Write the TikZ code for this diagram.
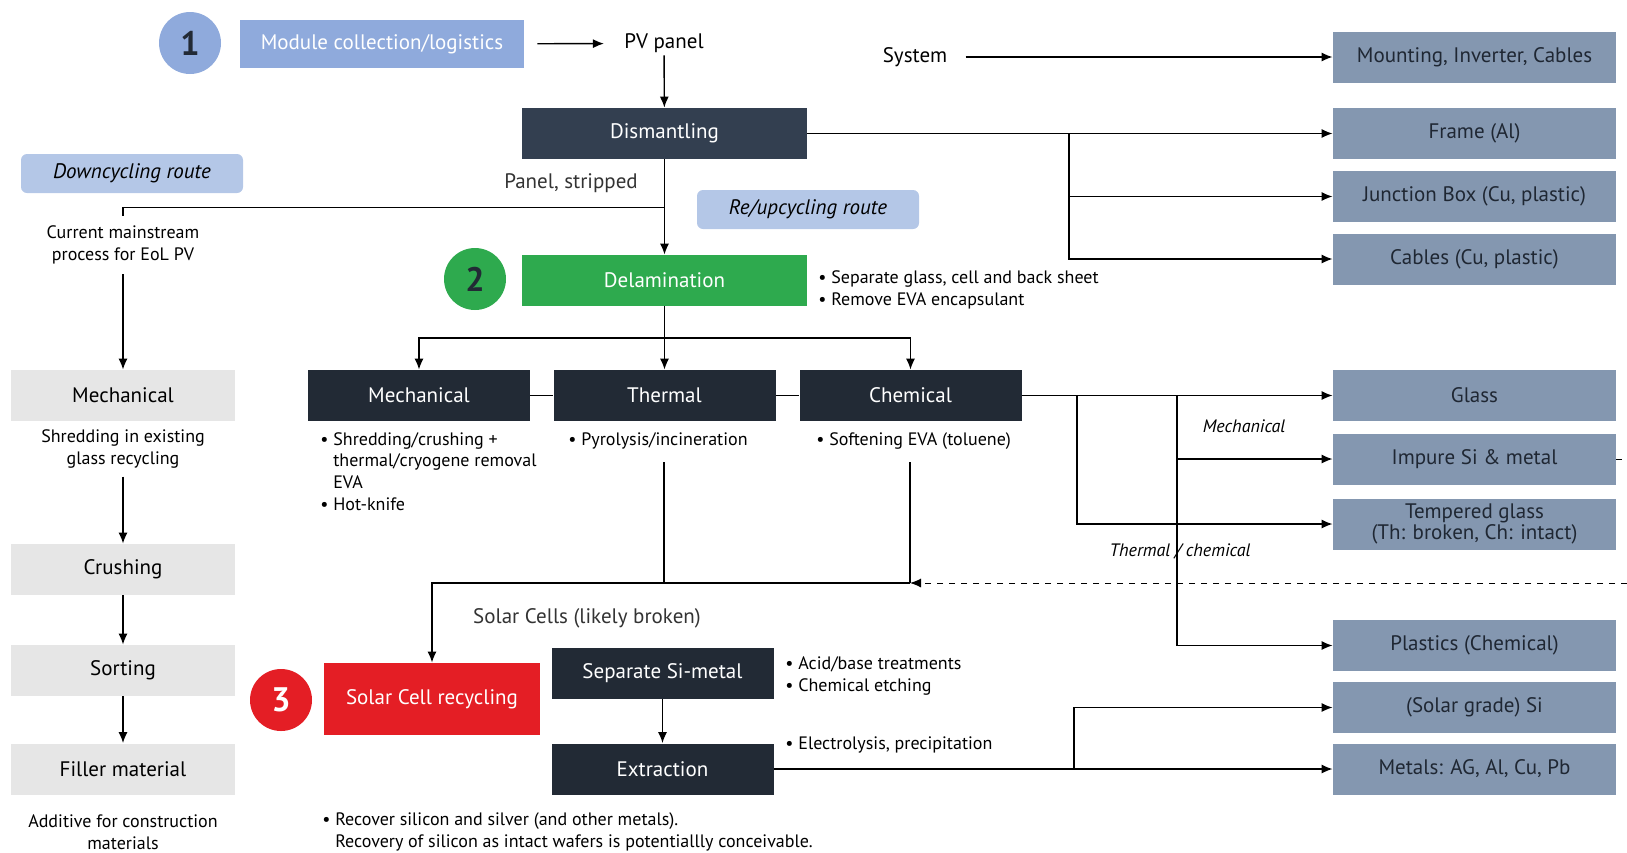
\documentclass[tikz,border=0pt]{standalone}
\usepackage{fontspec}
\setmainfont{PT Sans}
\usetikzlibrary{arrows.meta,positioning}

\definecolor{modblue}{HTML}{8FAADC}
\definecolor{routeblue}{HTML}{B4C7E7}
\definecolor{dismdark}{HTML}{333F50}
\definecolor{procdark}{HTML}{222A35}
\definecolor{delgreen}{HTML}{2EAA4E}
\definecolor{cellred}{HTML}{E41E25}
\definecolor{outslate}{HTML}{8497B0}
\definecolor{outtext}{HTML}{1F2733}
\definecolor{greybox}{HTML}{E6E6E6}
\definecolor{labelgrey}{HTML}{333333}

\newcommand{\boxfont}{\fontsize{10.5}{12}\selectfont}
\newcommand{\notefont}{\fontsize{9}{10.8}\selectfont}
\newcommand{\numfont}{\fontsize{17}{19}\selectfont}
\newcommand{\bul}{\textbullet\ }
\newcommand{\nobul}{\hphantom{\textbullet\ }}

\begin{document}
\begin{tikzpicture}[x=0.5pt,y=-0.5pt,>={Latex[length=5.5pt,width=4.5pt]},link/.style={line width=0.7pt},
    main box/.style={rectangle,minimum width=111pt,minimum height=25.5pt,inner sep=0pt,font=\boxfont},
    dark box/.style={main box,fill=procdark,text=white},
    out box/.style={main box,minimum width=141.5pt,fill=outslate,text=outtext},
    grey box/.style={main box,minimum width=112pt,fill=greybox,text=black},
    route box/.style={rounded corners=3pt,fill=routeblue,minimum width=111pt,minimum height=19.5pt,font=\boxfont\itshape},
    num circle/.style={circle,minimum size=31pt,inner sep=0pt,font=\numfont\bfseries},
    note/.style={font=\notefont,align=left,inner sep=0pt},
    label/.style={font=\fontsize{10.5}{12}\selectfont,text=labelgrey,inner sep=1pt}]
  \useasboundingbox (0,0) rectangle (1627,852);

  % stage 1
  \node[num circle,fill=modblue,text=procdark] (n1) at (190,43) {1};
  \node[main box,minimum width=142pt,minimum height=24pt,fill=modblue,text=white] (module) at (382,44) {Module collection/logistics};
  \node[label,text=black] (pv) at (664,43.5) {PV panel};
  \node[main box,minimum width=142.5pt,fill=dismdark,text=white] (dism) at (664.5,133.5) {Dismantling};
  \node[label,text=black] (system) at (915,57) {System};

  % outputs
  \node[out box] (mount) at (1474.5,57) {Mounting, Inverter, Cables};
  \node[out box] (frame) at (1474.5,133.5) {Frame (Al)};
  \node[out box] (jbox) at (1474.5,196.5) {Junction Box (Cu, plastic)};
  \node[out box] (cables) at (1474.5,259) {Cables (Cu, plastic)};
  \node[out box] (glass) at (1474.5,395.5) {Glass};
  \node[out box] (impure) at (1474.5,459) {Impure Si \& metal};
  \node[out box,align=center,font=\fontsize{10.5}{10.5}\selectfont] (temp) at (1474.5,524) {Tempered glass\\(Th: broken, Ch: intact)};
  \node[out box] (plast) at (1474.5,645.5) {Plastics (Chemical)};
  \node[out box] (sigrade) at (1474.5,707.5) {(Solar grade) Si};
  \node[out box] (metals) at (1474.5,769) {Metals: AG, Al, Cu, Pb};

  % routes
  \node[route box] (down) at (132,173.5) {Downcycling route};
  \node[route box] (reup) at (808,209.5) {Re/upcycling route};
  \node[label] (stripped) at (571,183) {Panel, stripped};

  % stage 2
  \node[num circle,fill=delgreen,text=procdark] (n2) at (475,279) {2};
  \node[main box,minimum width=142.5pt,fill=delgreen,text=white] (delam) at (664.5,280.5) {Delamination};
  \node[note,anchor=west] (delnote) at (818,290) {\bul Separate glass, cell and back sheet\\\bul Remove EVA encapsulant};
  \node[dark box] (mech) at (419,395.5) {Mechanical};
  \node[dark box] (therm) at (664.5,395.5) {Thermal};
  \node[dark box] (chem) at (910.5,395.5) {Chemical};
  \node[note,anchor=north west] (mechnote) at (320,432) {\bul Shredding/crushing +\\\nobul thermal/cryogene removal\\\nobul EVA\\\bul Hot-knife};
  \node[note,anchor=north west] (thermnote) at (568,432) {\bul Pyrolysis/incineration};
  \node[note,anchor=north west] (chemnote) at (816,432) {\bul Softening EVA (toluene)};
  \node[font=\notefont\itshape,inner sep=0pt] (lmech) at (1244,426.5) {Mechanical};
  \node[font=\notefont\itshape,inner sep=0pt] (lthch) at (1180,551) {Thermal / chemical};

  % stage 3
  \node[label] (cells) at (587,618) {Solar Cells (likely broken)};
  \node[num circle,fill=cellred,text=white] (n3) at (281,700) {3};
  \node[main box,minimum width=108pt,minimum height=36pt,fill=cellred,text=white] (scr) at (432,699) {Solar Cell recycling};
  \node[dark box] (sep) at (662.5,673.5) {Separate Si-metal};
  \node[dark box] (extr) at (662.5,769) {Extraction};
  \node[note,anchor=west] (sepnote) at (785,676) {\bul Acid/base treatments\\\bul Chemical etching};
  \node[note,anchor=west] (extrnote) at (785,745) {\bul Electrolysis, precipitation};
  \node[note,anchor=west] (recnote) at (322,832) {\bul Recover silicon and silver (and other metals).\\\nobul Recovery of silicon as intact wafers is potentiallly conceivable.};

  % downcycling column
  \node[note,align=center] (current) at (123,245) {Current mainstream\\process for EoL PV};
  \node[grey box] (gmech) at (123,395.5) {Mechanical};
  \node[note,align=center] (shred) at (123,449) {Shredding in existing\\glass recycling};
  \node[grey box] (crush) at (123,569.5) {Crushing};
  \node[grey box] (sort) at (123,670.5) {Sorting};
  \node[grey box] (filler) at (123,769) {Filler material};
  \node[note,align=center] (additive) at (123,832) {Additive for construction\\materials};

  % junctions
  \coordinate (dj) at (1069,133.5);
  \coordinate (split) at (664,207.5);
  \coordinate (pj) at (664,338);
  \coordinate (cj1) at (1077,395.5);
  \coordinate (cj2) at (1177,395.5);
  \coordinate (tdrop) at (664,462);
  \coordinate (cdrop) at (910,462);
  \coordinate (cellj) at (910,583);
  \coordinate (redge) at (1627,583);
  \coordinate (ej) at (1074,769);

  \begin{scope}[link]
    \draw[->,shorten <=6.5pt,shorten >=9pt] (module) -- (pv);
    \draw[->] (pv) -- (dism);
    \draw[->,shorten <=8pt] (system) -- (mount);
    \draw[->] (dism) -- (frame);
    \draw[->] (dj) |- (jbox);
    \draw[->] (dj) |- (cables);
    \draw[->] (dism) -- (delam);
    \draw (split) -| ([yshift=5pt]current.north);
    \draw[->,shorten <=5pt] (current) -- (gmech);
    \draw[->,shorten <=4pt] (shred) -- (crush);
    \draw[->] (crush) -- (sort);
    \draw[->] (sort) -- (filler);
    \draw[->] (delam) -- (therm);
    \draw[->] (pj) -| (mech.north);
    \draw[->] (pj) -| (chem.north);
    \draw (mech) -- (therm);
    \draw (therm) -- (chem);
    \draw[->] (chem) -- (glass);
    \draw[->] (cj1) |- (temp);
    \draw[->] (cj2) |- (impure);
    \draw[->] (cj2) |- (plast);
    \draw (tdrop) -- (tdrop |- cellj);
    \draw (cdrop) -- (cellj);
    \draw[->] (cellj) -| (scr.north);
    \draw[->,dashed,line width=0.5pt] (redge) -- (cellj);
    \draw[dashed,line width=0.5pt] (impure.east) -- (impure.east -| redge);
    \draw[->] (sep) -- (extr);
    \draw[->] (extr) -- (metals);
    \draw[->] (ej) |- (sigrade);
  \end{scope}
\end{tikzpicture}
\end{document}
